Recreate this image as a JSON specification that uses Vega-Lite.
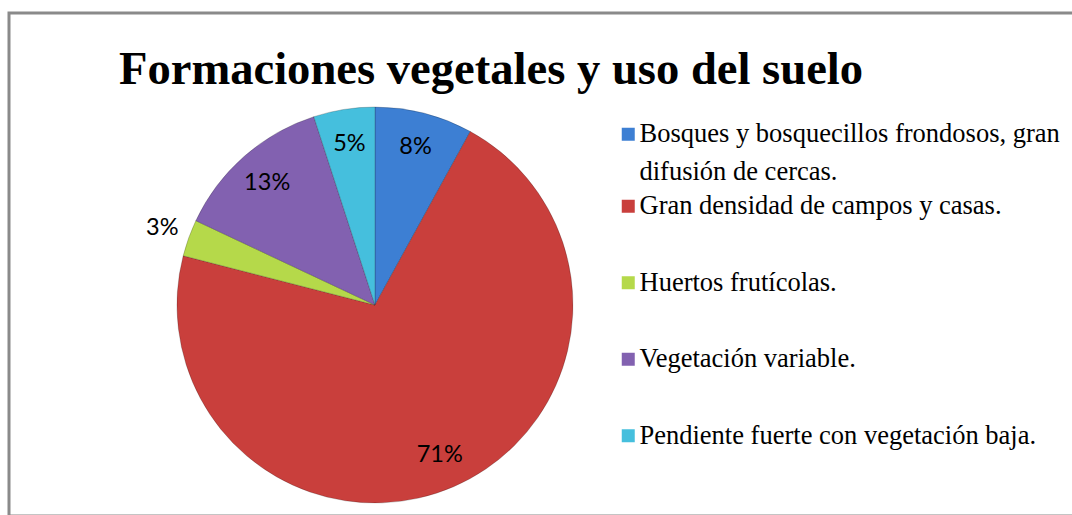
{
  "$schema": "https://vega.github.io/schema/vega-lite/v6.json",
  "width": 1066,
  "height": 503,
  "autosize": {"type": "none"},
  "padding": {"left": 9, "top": 13, "right": 0, "bottom": 0},
  "background": "white",
  "title": {
    "text": "Formaciones vegetales y uso del suelo",
    "font": "Liberation Serif",
    "fontSize": 46.6,
    "fontWeight": "bold",
    "color": "#000000",
    "anchor": "middle",
    "frame": "group",
    "dx": -51,
    "dy": 46,
    "offset": -72,
    "baseline": "alphabetic"
  },
  "config": {
    "view": {"stroke": "#8a8a8a", "strokeWidth": 3},
    "style": {"guide-label": {"lineHeight": 38}}
  },
  "data": {
    "values": [
      {"categoria": "Bosques y bosquecillos frondosos, gran difusión de cercas.", "porcentaje": 0.08, "orden": 1},
      {"categoria": "Gran densidad de campos y casas.", "porcentaje": 0.71, "orden": 2},
      {"categoria": "Huertos frutícolas.", "porcentaje": 0.03, "orden": 3},
      {"categoria": "Vegetación variable.", "porcentaje": 0.13, "orden": 4},
      {"categoria": "Pendiente fuerte con vegetación baja.", "porcentaje": 0.05, "orden": 5}
    ]
  },
  "transform": [
    {"stack": "porcentaje", "groupby": [], "sort": [{"field": "orden", "order": "ascending"}], "as": ["inicio", "fin"]}
  ],
  "encoding": {
    "x": {"datum": 0.3433, "type": "quantitative", "scale": {"domain": [0, 1], "nice": false, "zero": false}, "axis": null},
    "y": {"datum": 0.4195, "type": "quantitative", "scale": {"domain": [0, 1], "nice": false, "zero": false}, "axis": null}
  },
  "layer": [
    {
      "transform": [{"filter": "datum.orden == 1"}],
      "mark": {"type": "arc", "radius": 198, "stroke": "#000000", "strokeOpacity": 0.2, "strokeWidth": 1},
      "encoding": {
        "theta": {"field": "inicio", "type": "quantitative", "scale": {"domain": [0, 1]}},
        "theta2": {"field": "fin"},
        "color": {
          "field": "categoria",
          "type": "nominal",
          "scale": {"domain": ["Bosques y bosquecillos frondosos, gran difusión de cercas."], "range": ["#3d7fd3"]},
          "legend": {
            "orient": "none",
            "legendX": 606,
            "legendY": 108,
            "title": null,
            "padding": 0,
            "symbolType": "square",
            "symbolSize": 169,
            "symbolStrokeWidth": 0,
            "labelFont": "Liberation Serif",
            "labelFontSize": 26.5,
            "labelColor": "#000000",
            "labelOffset": -2,
            "labelLimit": 0,
            "labelExpr": "['Bosques y bosquecillos frondosos, gran', 'difusión de cercas.']",
            "encode": {"labels": {"update": {"lineHeight": {"value": 38}, "dy": {"value": 18.5}}}}
          }
        }
      }
    },
    {
      "transform": [{"filter": "datum.orden != 1"}],
      "mark": {"type": "arc", "radius": 198, "stroke": "#000000", "strokeOpacity": 0.2, "strokeWidth": 1},
      "encoding": {
        "theta": {"field": "inicio", "type": "quantitative", "scale": {"domain": [0, 1]}},
        "theta2": {"field": "fin"},
        "color": {
          "field": "categoria",
          "type": "nominal",
          "scale": {
            "domain": ["Gran densidad de campos y casas.", "Huertos frutícolas.", "Vegetación variable.", "Pendiente fuerte con vegetación baja."],
            "range": ["#c93f3c", "#b5d94a", "#8261b0", "#45bfdd"]
          },
          "legend": {
            "orient": "none",
            "legendX": 606,
            "legendY": 180,
            "title": null,
            "padding": 0,
            "rowPadding": 49.5,
            "symbolType": "square",
            "symbolSize": 169,
            "symbolStrokeWidth": 0,
            "labelFont": "Liberation Serif",
            "labelFontSize": 26.5,
            "labelColor": "#000000",
            "labelOffset": -2,
            "labelLimit": 0
          }
        }
      }
    },
    {
      "mark": {"type": "text", "radius": 163, "font": "Lato", "fontSize": 23.5, "color": "#000000", "baseline": "middle", "align": "center"},
      "encoding": {
        "theta": {"field": "porcentaje", "type": "quantitative", "stack": true, "scale": {"domain": [0, 1]}},
        "order": {"field": "orden", "type": "quantitative", "sort": "ascending"},
        "detail": {"field": "categoria", "type": "nominal"},
        "text": {"condition": {"test": "datum.porcentaje < 0.04", "value": ""}, "field": "porcentaje", "type": "quantitative", "format": ".0%"}
      }
    },
    {
      "mark": {"type": "text", "radius": 226, "font": "Lato", "fontSize": 23.5, "color": "#000000", "baseline": "middle", "align": "center"},
      "encoding": {
        "theta": {"field": "porcentaje", "type": "quantitative", "stack": true, "scale": {"domain": [0, 1]}},
        "order": {"field": "orden", "type": "quantitative", "sort": "ascending"},
        "detail": {"field": "categoria", "type": "nominal"},
        "text": {"condition": {"test": "datum.porcentaje >= 0.04", "value": ""}, "field": "porcentaje", "type": "quantitative", "format": ".0%"}
      }
    }
  ],
  "resolve": {"scale": {"color": "independent"}, "legend": {"color": "independent"}}
}
